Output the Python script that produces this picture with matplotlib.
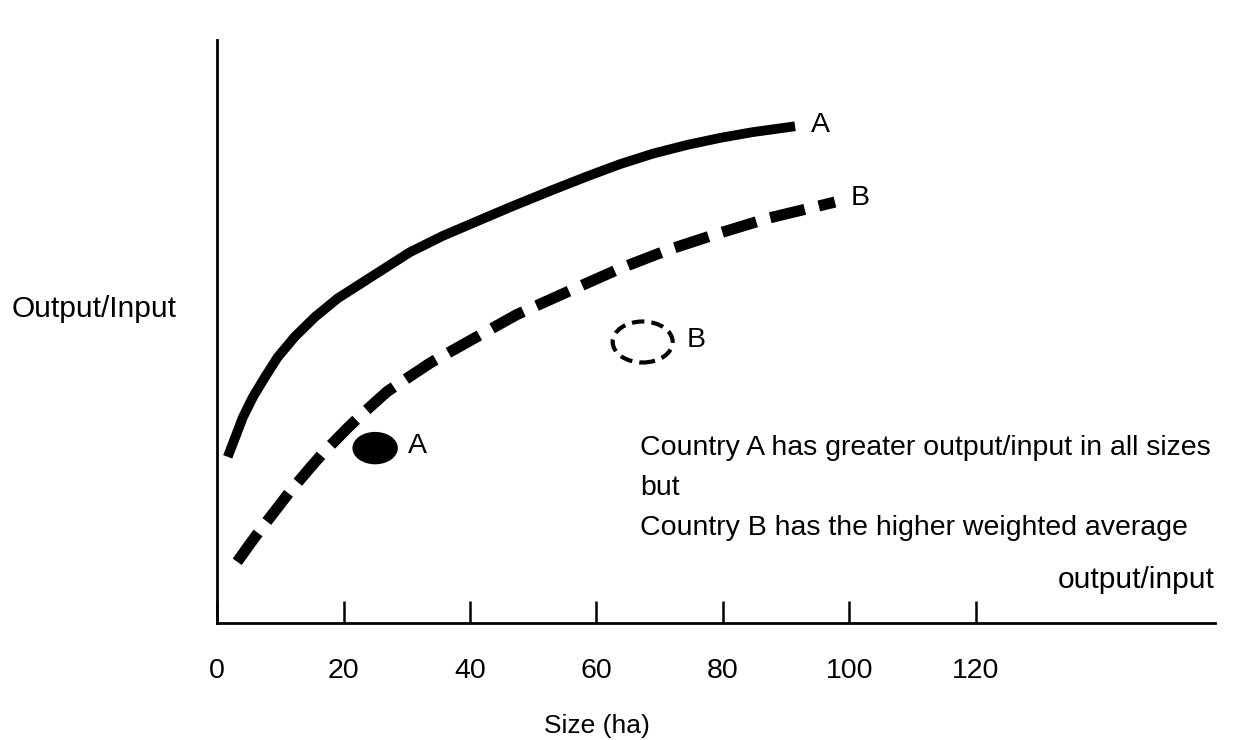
import numpy as np
import matplotlib
matplotlib.use('Agg')
import matplotlib.pyplot as plt
from matplotlib.patches import Ellipse

plt.rcParams['font.family'] = ['Liberation Sans', 'DejaVu Sans']

# curve A (solid): size (ha) vs output/input (arbitrary units)
curve_a_x = [1.7, 2.9, 4.1, 5.7, 7.6, 9.6, 12.3, 15.5, 19.1, 25.3, 30.5, 35.7, 41.1, 46.3,
             53.1, 58.5, 63.7, 68.9, 74.3, 79.5, 84.7, 91.4]
curve_a_y = [28.5, 31.9, 35.3, 38.8, 42.2, 45.6, 49.1, 52.5, 55.7, 60.0, 63.6, 66.4, 68.9, 71.3,
             74.3, 76.6, 78.7, 80.5, 82.0, 83.2, 84.2, 85.2]

# curve B (dashed)
curve_b_x = [3.2, 5.1, 6.8, 9.3, 11.5, 14.7, 16.8, 20.6, 22.9, 26.9, 33.7, 41.1, 47.4, 55.8,
             63.7, 71.3, 79.5, 87.4, 97.7]
curve_b_y = [10.5, 13.4, 15.9, 19.4, 22.5, 26.6, 29.2, 33.4, 35.8, 39.7, 44.6, 49.1, 52.9, 57.0,
             60.8, 64.0, 66.9, 69.5, 72.2]

# weighted averages (ellipses)
avg_a = (25.0, 30.0)
avg_b = (67.3, 48.2)

xticks = [0, 20, 40, 60, 80, 100, 120]

fs = 20.5

fig = plt.figure(figsize=(12.4, 7.4), dpi=100)
ax = fig.add_axes([217 / 1240, 117 / 740, 998 / 1240, 583 / 740])
ax.set_xlim(0, 998 / 6.325)
ax.set_ylim(0, 100)

ax.spines['top'].set_visible(False)
ax.spines['right'].set_visible(False)
ax.spines['left'].set_linewidth(2)
ax.spines['bottom'].set_linewidth(2)

ax.set_xticks(xticks)
ax.set_xticklabels([str(t) for t in xticks], fontsize=fs)
ax.tick_params(axis='x', direction='in', length=16, width=1.8, pad=25)
ax.set_yticks([])

ax.plot(curve_a_x, curve_a_y, color='black', lw=7, solid_capstyle='butt',
        solid_joinstyle='round')
ax.plot(curve_b_x, curve_b_y, color='black', lw=8, linestyle=(0, (3.2, 1.3)),
        dash_capstyle='butt', dash_joinstyle='round')

ax.text(93.9, 84.2, 'A', fontsize=fs, va='baseline', ha='left')
ax.text(100.1, 71.7, 'B', fontsize=fs, va='baseline', ha='left')

ax.add_patch(Ellipse(avg_a, 44 / 6.325, 31 / 5.83, facecolor='black', edgecolor='black'))
ax.text(30.2, 29.2, 'A', fontsize=fs, va='baseline', ha='left')

ax.add_patch(Ellipse(avg_b, 60 / 6.325, 41 / 5.83, facecolor='none', edgecolor='black',
                     lw=3, linestyle=(0, (3, 1.7))))
ax.text(74.3, 47.3, 'B', fontsize=fs, va='baseline', ha='left')

ax.text(66.9, 28.8, 'Country A has greater output/input in all sizes', fontsize=fs, va='baseline')
ax.text(66.9, 22.0, 'but', fontsize=fs, va='baseline')
ax.text(66.9, 15.1, 'Country B has the higher weighted average', fontsize=fs, va='baseline')
ax.text(157.8, 6.0, 'output/input', fontsize=21.5, va='baseline', ha='right')

fig.text(12 / 1240, 1 - 317 / 740, 'Output/Input', fontsize=21.5, va='baseline', ha='left')
fig.text(597 / 1240, 1 - 733 / 740, 'Size (ha)', fontsize=19, va='baseline', ha='center')

fig.savefig('out.png', dpi=100)
